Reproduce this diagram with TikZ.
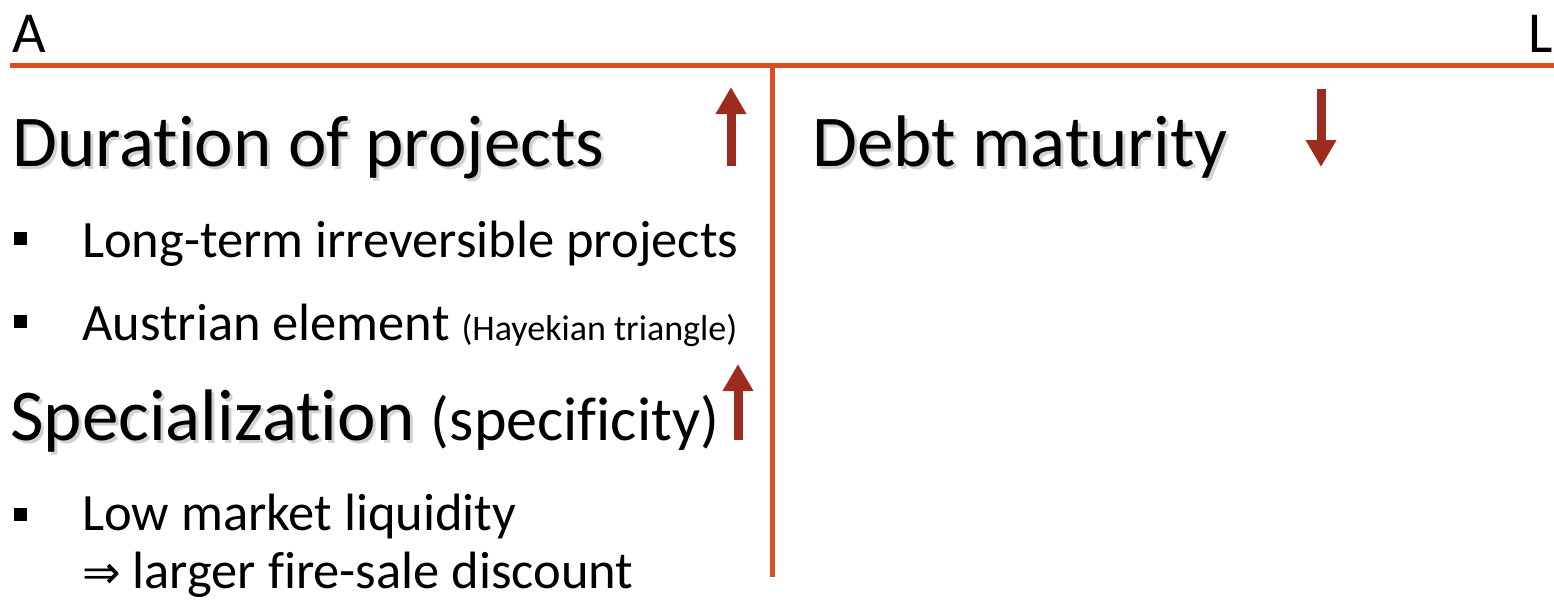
\documentclass[tikz,border=0pt]{standalone}
\usepackage{fontspec}
\setmainfont{Carlito}[Ligatures=NoCommon]
\newfontfamily\arrowfont{DejaVu Sans}
\usetikzlibrary{arrows.meta}
\definecolor{tline}{RGB}{217,79,30}
\definecolor{trend}{RGB}{157,44,32}

\begin{document}
\begin{tikzpicture}[x=1pt,y=-1pt,
    every node/.style={inner sep=0pt,anchor=base west},
    head/.style={font=\fontsize{73}{80}\selectfont},
    item/.style={font=\fontsize{52.5}{60}\selectfont},
    side/.style={font=\fontsize{58}{64}\selectfont},
    bullet/.style={fill=black,minimum size=13pt,anchor=center},
    shade/.style={text=black!35,opacity=0.5},
    tee/.style={draw=tline,line width=5pt},
    trendarrow/.style={draw=trend,line width=9pt,-{Triangle[width=29pt,length=27pt]}}]

  \useasboundingbox (0,0) rectangle (1554,600);

  % T-account
  \coordinate (hl) at (10,65);
  \coordinate (hr) at (1554,65);
  \coordinate (vt) at (772,63);
  \coordinate (vb) at (772,577);
  \draw[tee] (hl) -- (hr);
  \draw[tee] (vt) -- (vb);
  \node[side] (A) at (12,52) {A};
  \node[side,anchor=base east] (L) at (1553,52) {L};

  % assets side
  \node[head,shade] (dur-sh) at (15,169) {Duration of projects};
  \node[head] (dur) at (12,166) {Duration of projects};
  \node[bullet] (b1) at (20,238) {};
  \node[item] (long) at (82,257) {Long-term irreversible projects};
  \node[bullet] (b2) at (20,321) {};
  \node[item] (aus) at (82,340) {Austrian element {\fontsize{36}{40}\selectfont(Hayekian triangle)}};
  \node[head,shade] (spec-sh) at (13,443) {Specialization \phantom{\fontsize{62}{68}\selectfont(specificity)}};
  \node[head] (spec) at (10,440) {Specialization {\fontsize{62}{68}\selectfont(specificity)}};
  \node[bullet] (b3) at (20,514) {};
  \node[item] (low) at (82,530) {Low market liquidity};
  \node[item] (fire) at (82,588) {{\arrowfont\fontsize{46}{50}\selectfont ⇒} larger fire-sale discount};

  % liabilities side
  \node[head,shade] (debt-sh) at (815,169) {Debt maturity};
  \node[head] (debt) at (812,166) {Debt maturity};

  % trend arrows
  \coordinate (u1b) at (731,166);
  \coordinate (u1t) at (731,87);
  \coordinate (u2b) at (738,440);
  \coordinate (u2t) at (738,364);
  \coordinate (d1t) at (1321,89);
  \coordinate (d1b) at (1321,167);
  \draw[trendarrow] (u1b) -- (u1t);
  \draw[trendarrow] (u2b) -- (u2t);
  \draw[trendarrow] (d1t) -- (d1b);
\end{tikzpicture}
\end{document}
